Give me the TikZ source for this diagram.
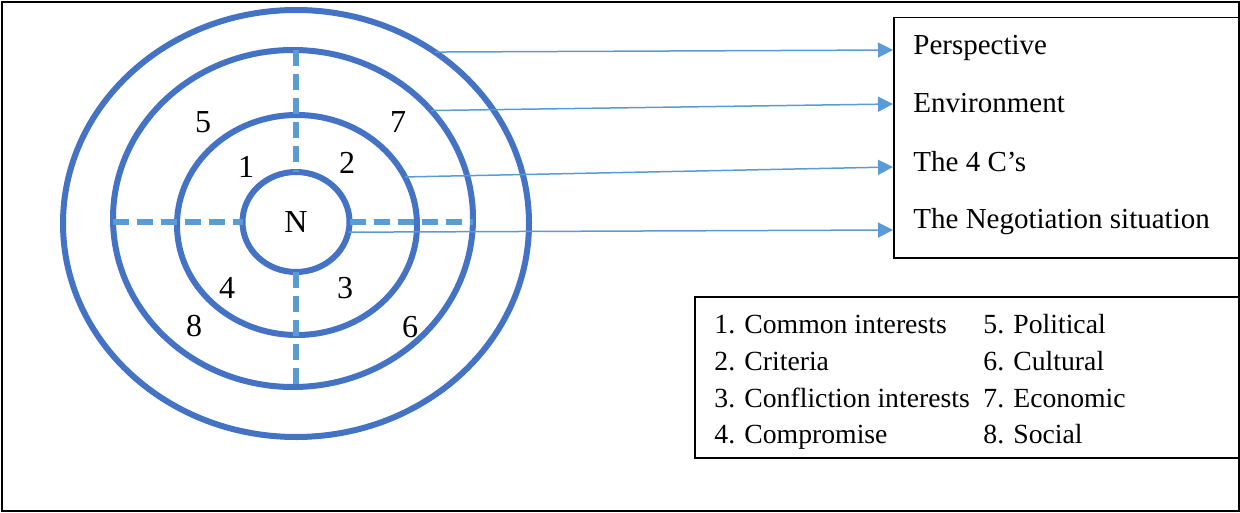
\documentclass[tikz,border=0pt]{standalone}
\usepackage{fontspec}
\setmainfont{Liberation Serif}
\usetikzlibrary{arrows.meta,shapes.geometric}
\definecolor{ringblue}{HTML}{4472C4}
\definecolor{lightblue}{HTML}{5B9BD5}
\begin{document}
\begin{tikzpicture}[x=0.5pt,y=-0.5pt,
 ring/.style={ellipse, draw=ringblue, line width=3pt, inner sep=0pt, outer sep=0pt},
 divider/.style={lightblue, line width=2.75pt, dash pattern=on 8pt off 4pt},
 link/.style={lightblue, line width=0.75pt, -{Triangle[length=7.5pt,width=7.5pt]}},
 lbl/.style={font=\fontsize{16}{19}\selectfont, inner sep=0pt},
 boxtext/.style={font=\fontsize{14.5}{17}\selectfont, anchor=base west, inner sep=0pt},
 legtext/.style={font=\fontsize{13.85}{16}\selectfont, anchor=base west, inner sep=0pt},
 panel/.style={draw=black, line width=0.75pt, inner sep=0pt, anchor=north west},
 frame/.style={draw=black, line width=1pt}]
\useasboundingbox (0,0) rectangle (1240,513);
\draw[frame] (1.5,2) rectangle (1238.5,510.5);

% rings
\node[ring, minimum width=233pt, minimum height=213.5pt] (outer) at (296,223.5) {};
\node[ring, minimum width=180pt, minimum height=168.5pt] (second) at (293,218.5) {};
\node[ring, minimum width=120pt, minimum height=110pt] (third) at (297,225) {};
\node[ring, minimum width=53.5pt, minimum height=50pt, font=\fontsize{16}{19}\selectfont] (inner) at (296,222) {N};

% dividers
\draw[divider] (second.north -| inner.north) -- (inner.north);
\draw[divider] (inner.south) -- (second.south -| inner.south);
\draw[divider] (second.west |- inner.west) -- (inner.west);
\draw[divider] (inner.east) -- (second.east |- inner.east);

% numbers
\node[lbl] (n5) at (203,122) {5};
\node[lbl] (n7) at (398,122) {7};
\node[lbl] (n1) at (246,167) {1};
\node[lbl] (n2) at (347,163) {2};
\node[lbl] (n4) at (227,288) {4};
\node[lbl] (n3) at (345,288) {3};
\node[lbl] (n8) at (194,326) {8};
\node[lbl] (n6) at (410,327) {6};

% output box
\node[panel, minimum width=172.5pt, minimum height=120pt] (outbox) at (893,17) {};
\node[boxtext] (t1) at (913,55) {Perspective};
\node[boxtext] (t2) at (913,113) {Environment};
\node[boxtext] (t3) at (913,172) {The 4 C’s};
\node[boxtext] (t4) at (913,228) {The Negotiation situation};

\coordinate (e1) at (893,50);
\coordinate (e2) at (893,104);
\coordinate (e3) at (893,167);
\coordinate (e4) at (893,230);

\draw[link] (outer.51.9) -- (e1);
\draw[link] (second.38.8) -- (e2);
\draw[link] (third.24.7) -- (e3);
\draw[link] (inner.-11) -- (e4);

% legend
\node[panel, minimum width=272pt, minimum height=80.5pt] (legend) at (694,296) {};
\node[legtext] (l1) at (714,333) {1. Common interests};
\node[legtext] (l2) at (714,370) {2. Criteria};
\node[legtext] (l3) at (714,407) {3. Confliction interests};
\node[legtext] (l4) at (714,443) {4. Compromise};
\node[legtext] (l5) at (983,333) {5. Political};
\node[legtext] (l6) at (983,370) {6. Cultural};
\node[legtext] (l7) at (983,407) {7. Economic};
\node[legtext] (l8) at (983,443) {8. Social};
\end{tikzpicture}
\end{document}
